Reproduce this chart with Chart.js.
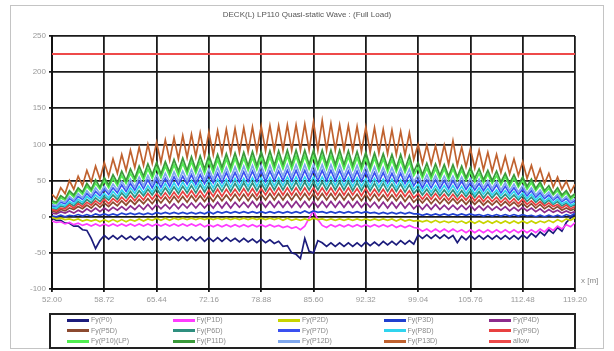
<!DOCTYPE html>
<html>
<head>
<meta charset="utf-8">
<script src="https://cdn.jsdelivr.net/npm/chart.js@4.4.1/dist/chart.umd.min.js"></script>
<style>
  body { margin: 0; background: #fff; font-family: "Liberation Sans", Arial, sans-serif; }
  #wrap { position: relative; width: 614px; height: 351px; }
  #frame { position: absolute; left: 10px; top: 5px; width: 594px; height: 344px; border: 1px solid #c4c4c4; box-sizing: border-box; }
  #title { position: absolute; left: 0; top: 10px; width: 614px; text-align: center; font-size: 8px; color: #555; }
  #xunit { position: absolute; left: 581px; top: 276px; font-size: 8px; color: #888; }
  #legend { position: absolute; left: 49px; top: 313px; width: 527px; height: 36px; border: 2px solid #222; box-sizing: border-box; }
  .item { position: absolute; font-size: 7px; color: #888; line-height: 8px; white-space: nowrap; }
  .item i { display: inline-block; width: 22px; height: 3px; vertical-align: middle; margin-right: 2px; }
  canvas { position: absolute; left: 0; top: 0; }
</style>
</head>
<body>
<div id="wrap">
  <div id="frame"></div>
  <canvas id="c" width="614" height="351"></canvas>
  <div id="title">DECK(L) LP110 Quasi-static Wave : (Full Load)</div>
  <div id="xunit">x [m]</div>
  <div id="legend"></div>
</div>
<script>
// stations along the deck [m]
const XS = [52, 52.56, 53.12, 53.68, 54.24, 54.8, 55.36, 55.92, 56.48, 57.04, 57.6, 58.16, 58.72,
  59.28, 59.84, 60.4, 60.96, 61.52, 62.08, 62.64, 63.2, 63.76, 64.32, 64.88, 65.44,
  66, 66.56, 67.12, 67.68, 68.24, 68.8, 69.36, 69.92, 70.48, 71.04, 71.6, 72.16,
  72.72, 73.28, 73.84, 74.4, 74.96, 75.52, 76.08, 76.64, 77.2, 77.76, 78.32, 78.88,
  79.44, 80, 80.56, 81.12, 81.68, 82.24, 82.8, 83.36, 83.92, 84.48, 85.04, 85.6,
  86.16, 86.72, 87.28, 87.84, 88.4, 88.96, 89.52, 90.08, 90.64, 91.2, 91.76, 92.32,
  92.88, 93.44, 94, 94.56, 95.12, 95.68, 96.24, 96.8, 97.36, 97.92, 98.48, 99.04,
  99.6, 100.16, 100.72, 101.28, 101.84, 102.4, 102.96, 103.52, 104.08, 104.64, 105.2, 105.76,
  106.32, 106.88, 107.44, 108, 108.56, 109.12, 109.68, 110.24, 110.8, 111.36, 111.92, 112.48,
  113.04, 113.6, 114.16, 114.72, 115.28, 115.84, 116.4, 116.96, 117.52, 118.08, 118.64, 119.2];

const TICK_X = [52, 58.72, 65.44, 72.16, 78.88, 85.6, 92.32, 99.04, 105.76, 112.48, 119.2];
const Y_MIN = -100, Y_MAX = 250, Y_STEP = 50;
const ALLOW = 225;

const FY_P0 = [-2,-5, -5,-9, -9,-13, -13,-18, -19,-30, -44,-33, -26,-31, -26,-31, -26,-31, -27,-32,
  -27,-32, -27,-32, -27,-32, -27,-32, -28,-33, -28,-33, -28,-33, -28,-34, -29,-34, -29,-34,
  -29,-34, -30,-35, -30,-35, -31,-36, -31,-36, -32,-37, -34,-41, -40,-50, -52,-58, -30,-48,
  -50,-33, -36,-41, -36,-41, -36,-41, -36,-41, -36,-41, -35,-40, -35,-40, -34,-39, -34,-39,
  -33,-38, -33,-38, -25,-30, -25,-30, -25,-30, -25,-30, -26,-36, -27,-32, -26,-31, -26,-31,
  -26,-31, -26,-31, -26,-31, -26,-31, -25,-30, -23,-28, -21,-26, -18,-23, -15,-20, -8,-2, 4];
const FY_P1 = [-6,-8, -7,-10, -8,-11, -9,-12, -10,-13, -10,-13, -10,-13, -10,-13, -10,-13, -10,-13,
  -10,-13, -10,-13, -10,-13, -10,-13, -10,-13, -10,-13, -10,-13, -10,-14, -11,-14, -11,-14,
  -11,-14, -11,-14, -11,-14, -11,-14, -11,-14, -11,-14, -12,-15, -13,-16, -14,-18, -13,-2,
  8,-4, -12,-15, -11,-14, -11,-14, -11,-14, -11,-14, -11,-14, -11,-14, -11,-14, -11,-15,
  -12,-15, -12,-15, -16,-20, -17,-21, -17,-21, -17,-21, -17,-21, -18,-22, -18,-22, -18,-22,
  -18,-22, -18,-22, -18,-22, -18,-22, -18,-22, -18,-22, -17,-21, -15,-19, -13,-17, -11,-14, -8];
const FY_P2 = [-1,-3, -2,-4, -3,-5, -3,-6, -4,-6, -4,-7, -4,-7, -4,-7, -4,-7, -4,-6,
  -3,-6, -3,-5, -2,-5, -2,-5, -2,-4, -2,-4, -2,-4, -2,-4, -2,-4, -2,-4,
  -2,-4, -2,-4, -2,-4, -2,-4, -2,-4, -2,-4, -2,-5, -2,-5, -3,-5, -3,-5,
  -2,-4, -3,-5, -3,-5, -3,-5, -3,-5, -3,-5, -3,-5, -3,-5, -3,-5, -3,-6,
  -3,-6, -4,-6, -5,-7, -5,-8, -5,-8, -6,-8, -6,-8, -6,-9, -6,-9, -6,-9,
  -6,-9, -6,-9, -6,-9, -6,-9, -6,-9, -6,-9, -6,-8, -5,-8, -4,-7, -3,-5, -1];
const FY_P3 = [1,0, 2,0, 2,1, 3,1, 3,1, 4,2, 4,2, 4,2, 5,3, 5,3,
  5,3, 5,3, 6,4, 6,4, 6,4, 6,4, 6,4, 6,4, 7,4, 7,5,
  7,5, 7,5, 7,5, 7,5, 7,5, 7,5, 7,5, 7,5, 7,5, 8,5,
  8,6, 7,5, 7,5, 7,5, 7,5, 7,5, 7,5, 6,4, 6,4, 6,4,
  6,4, 6,4, 4,2, 4,2, 4,2, 4,2, 4,2, 4,2, 4,2, 3,1,
  3,1, 3,1, 3,1, 3,1, 3,1, 2,0, 2,0, 2,0, 2,0, 3,1, 5];
const FY_P4 = [5,4, 7,5, 8,5, 9,6, 11,7, 12,7, 12,8, 13,9, 14,9, 15,10,
  16,10, 17,10, 17,11, 17,11, 18,11, 18,12, 19,12, 19,12, 19,12, 20,12,
  20,12, 20,13, 20,13, 21,13, 21,13, 21,13, 21,13, 21,13, 21,13, 21,13,
  21,13, 21,13, 21,13, 21,13, 21,13, 21,13, 20,13, 20,12, 20,12, 20,12,
  20,12, 19,11, 17,10, 17,10, 17,10, 16,10, 16,10, 16,10, 16,9, 15,9,
  15,9, 14,9, 14,8, 13,8, 13,8, 12,7, 11,6, 10,6, 9,5, 8,5, 7];
const FY_P5 = [8,6, 10,8, 12,10, 14,11, 16,12, 18,13, 19,14, 20,15, 22,16, 23,17,
  24,18, 25,18, 26,19, 27,19, 28,20, 28,20, 29,21, 29,21, 29,21, 30,22,
  30,22, 31,22, 31,22, 31,23, 31,23, 32,23, 32,23, 32,23, 32,23, 32,23,
  32,23, 32,23, 32,23, 32,23, 32,23, 31,22, 31,22, 31,22, 30,22, 30,22,
  30,21, 29,20, 26,19, 26,18, 25,18, 25,18, 25,18, 24,17, 24,17, 23,16,
  22,16, 22,15, 21,15, 20,14, 19,13, 18,12, 17,11, 15,10, 14,9, 12,9, 11];
const FY_P6 = [12,10, 15,13, 19,15, 21,17, 24,19, 26,21, 28,23, 30,24, 33,26, 35,27,
  36,29, 38,30, 39,30, 40,31, 41,32, 42,33, 43,33, 44,34, 44,34, 45,35,
  46,35, 46,36, 47,36, 47,36, 47,36, 48,37, 48,37, 48,37, 48,37, 48,37,
  48,37, 48,37, 48,37, 48,37, 48,36, 47,36, 47,36, 46,35, 46,35, 45,35,
  45,34, 44,32, 39,30, 38,29, 38,29, 37,29, 37,28, 36,28, 36,27, 35,26,
  34,26, 33,25, 31,24, 30,23, 29,21, 27,20, 25,18, 23,17, 21,15, 19,14, 17];
const FY_P7 = [15,14, 20,18, 25,21, 28,24, 32,26, 35,29, 38,31, 40,33, 44,35, 46,37,
  49,39, 51,40, 52,41, 53,42, 55,44, 56,45, 58,45, 58,46, 59,47, 60,47,
  61,48, 61,48, 62,49, 63,49, 63,49, 63,50, 63,50, 64,50, 64,50, 64,50,
  64,50, 64,50, 64,50, 64,50, 63,49, 63,49, 62,48, 61,48, 61,47, 60,47,
  60,46, 58,43, 52,40, 51,40, 51,39, 50,39, 50,39, 49,38, 47,37, 46,36,
  45,35, 44,33, 42,32, 40,31, 38,29, 36,27, 33,25, 30,23, 28,21, 25,19, 22];
const FY_P8 = [13,12, 17,15, 21,18, 24,20, 28,23, 30,25, 32,26, 35,28, 37,30, 40,32,
  42,33, 43,34, 45,35, 46,36, 47,37, 48,38, 50,39, 50,39, 51,40, 52,41,
  52,41, 53,41, 53,42, 54,42, 54,42, 54,43, 54,43, 55,43, 55,43, 55,43,
  55,43, 55,43, 55,43, 55,43, 54,42, 54,42, 53,41, 53,41, 52,41, 52,40,
  51,40, 50,37, 45,35, 44,34, 43,34, 43,34, 43,33, 42,32, 41,31, 40,31,
  39,30, 37,29, 36,28, 35,26, 33,25, 31,23, 29,21, 26,19, 24,18, 21,16, 19];
const FY_P9 = [10,8, 12,11, 16,12, 18,14, 20,16, 22,17, 24,18, 25,20, 27,21, 29,22,
  30,23, 32,24, 32,25, 33,25, 34,26, 35,27, 36,27, 36,27, 37,28, 38,28,
  38,29, 38,29, 39,29, 39,29, 39,30, 40,30, 40,30, 40,30, 40,30, 40,30,
  40,30, 40,30, 40,30, 40,30, 40,30, 39,29, 39,29, 38,29, 38,28, 38,28,
  37,28, 36,26, 32,24, 32,24, 32,24, 31,23, 31,23, 30,23, 30,22, 29,21,
  28,21, 27,20, 26,19, 25,18, 24,17, 22,16, 21,15, 19,14, 17,12, 16,11, 14];
const FY_P10 = [20,18, 26,23, 33,27, 37,31, 42,35, 46,38, 50,40, 53,43, 57,46, 60,49,
  64,51, 66,53, 68,54, 70,56, 72,57, 74,59, 76,60, 76,60, 77,61, 79,62,
  80,63, 81,64, 81,64, 82,65, 82,65, 83,65, 83,66, 84,66, 84,66, 84,66,
  84,66, 84,66, 84,66, 84,66, 83,65, 82,64, 81,64, 81,63, 80,62, 79,62,
  78,61, 76,57, 68,53, 67,52, 66,52, 66,51, 66,51, 64,50, 62,48, 60,47,
  59,46, 57,44, 55,42, 53,41, 50,38, 47,36, 44,33, 39,30, 36,27, 33,24, 29];
const FY_P11 = [22,20, 29,25, 36,30, 40,34, 46,38, 51,41, 54,44, 58,47, 63,50, 66,53,
  70,56, 73,58, 75,59, 76,61, 79,63, 81,64, 83,65, 84,66, 85,67, 86,68,
  87,69, 88,69, 89,70, 90,71, 90,71, 91,71, 91,72, 92,72, 92,72, 92,72,
  92,72, 92,72, 92,72, 92,72, 91,71, 90,70, 89,69, 88,69, 87,68, 86,67,
  86,66, 84,62, 75,58, 74,57, 73,57, 72,56, 72,55, 70,54, 68,53, 66,51,
  64,50, 63,48, 60,46, 58,44, 55,42, 52,39, 48,36, 43,32, 40,30, 36,27, 32];
const FY_P12 = [17,15, 22,20, 28,23, 32,26, 36,29, 40,32, 42,34, 45,37, 49,39, 52,41,
  55,43, 57,45, 58,46, 60,47, 62,49, 63,50, 65,51, 66,51, 66,52, 68,53,
  68,53, 69,54, 70,55, 71,55, 71,55, 71,55, 71,56, 72,56, 72,56, 72,56,
  72,56, 72,56, 72,56, 72,56, 71,55, 71,55, 70,54, 69,53, 68,53, 68,52,
  67,52, 66,48, 58,45, 58,45, 57,44, 56,44, 56,43, 55,42, 53,41, 52,40,
  50,39, 49,37, 47,36, 45,34, 43,32, 40,30, 37,28, 34,25, 31,23, 28,21, 25];
const FY_P13 = [31,25, 40,32, 50,38, 56,43, 64,48, 70,52, 75,56, 80,60, 86,64, 92,68,
  96,71, 100,74, 103,75, 106,78, 109,80, 112,82, 114,83, 116,84, 117,86, 119,87,
  121,88, 122,89, 123,90, 124,90, 125,91, 126,91, 126,92, 127,92, 127,92, 128,92,
  131,92, 133,92, 129,92, 127,92, 126,91, 125,90, 124,89, 123,88, 121,87, 120,86,
  118,85, 116,79, 100,74, 99,73, 98,72, 99,72, 105,71, 96,69, 94,67, 92,65,
  89,63, 86,61, 83,59, 80,57, 76,53, 71,50, 66,46, 60,41, 55,38, 49,34, 45];

const NAMES = ['Fy(P0)', 'Fy(P1D)', 'Fy(P2D)', 'Fy(P3D)', 'Fy(P4D)',
  'Fy(P5D)', 'Fy(P6D)', 'Fy(P7D)', 'Fy(P8D)', 'Fy(P9D)',
  'Fy(P10)(LP)', 'Fy(P11D)', 'Fy(P12D)', 'Fy(P13D)', 'allow'];
const COLORS = ['#1c1c7c', '#ff3cff', '#c8d400', '#2040d0', '#8c2c8c',
  '#8c4a30', '#2f8f7f', '#3a50f0', '#30d4ee', '#e84040',
  '#50ee50', '#3a9a3a', '#80a8ee', '#c0622f', '#ee4a4a'];
const SERIES = [FY_P0, FY_P1, FY_P2, FY_P3, FY_P4, FY_P5, FY_P6,
  FY_P7, FY_P8, FY_P9, FY_P10, FY_P11, FY_P12, FY_P13];

const datasets = SERIES.map((vals, k) => ({
  label: NAMES[k],
  data: vals.map((y, i) => ({ x: XS[i], y: y })),
  borderColor: COLORS[k],
  borderWidth: 1.7,
  pointRadius: 0,
  tension: 0,
  order: SERIES.length - k
}));
datasets.push({
  label: NAMES[14],
  data: [{ x: XS[0], y: ALLOW }, { x: XS[XS.length - 1], y: ALLOW }],
  borderColor: COLORS[14],
  borderWidth: 2,
  pointRadius: 0,
  order: 0
});

new Chart(document.getElementById('c'), {
  type: 'line',
  data: { datasets: datasets },
  options: {
    responsive: false,
    animation: false,
    layout: { padding: { left: 10, right: 39, top: 36, bottom: 38 } },
    plugins: { legend: { display: false }, tooltip: { enabled: false } },
    scales: {
      x: {
        type: 'linear',
        min: TICK_X[0],
        max: TICK_X[TICK_X.length - 1],
        afterBuildTicks: s => { s.ticks = TICK_X.map(v => ({ value: v })); },
        afterFit: s => { s.height = 24; },
        ticks: { callback: v => Number(v).toFixed(2), color: '#999', font: { size: 8 }, padding: 3, maxRotation: 0, autoSkip: false },
        grid: { color: '#1a1a1a', lineWidth: 1.8, tickLength: 3 },
        border: { color: '#111', width: 2 }
      },
      y: {
        min: Y_MIN,
        max: Y_MAX,
        afterFit: s => { s.width = 42; },
        ticks: { stepSize: Y_STEP, color: '#999', font: { size: 8 }, padding: 3 },
        grid: { color: '#1a1a1a', lineWidth: 1.8, tickLength: 3 },
        border: { color: '#111', width: 2 }
      }
    }
  }
});

// legend box, 5 columns x 3 rows
const legend = document.getElementById('legend');
NAMES.forEach((name, k) => {
  const el = document.createElement('div');
  el.className = 'item';
  el.style.left = (16 + (k % 5) * 105.5) + 'px';
  el.style.top = (1 + Math.floor(k / 5) * 10.5) + 'px';
  el.innerHTML = '<i style="background:' + COLORS[k] + '"></i>' + name;
  legend.appendChild(el);
});
</script>
</body>
</html>
